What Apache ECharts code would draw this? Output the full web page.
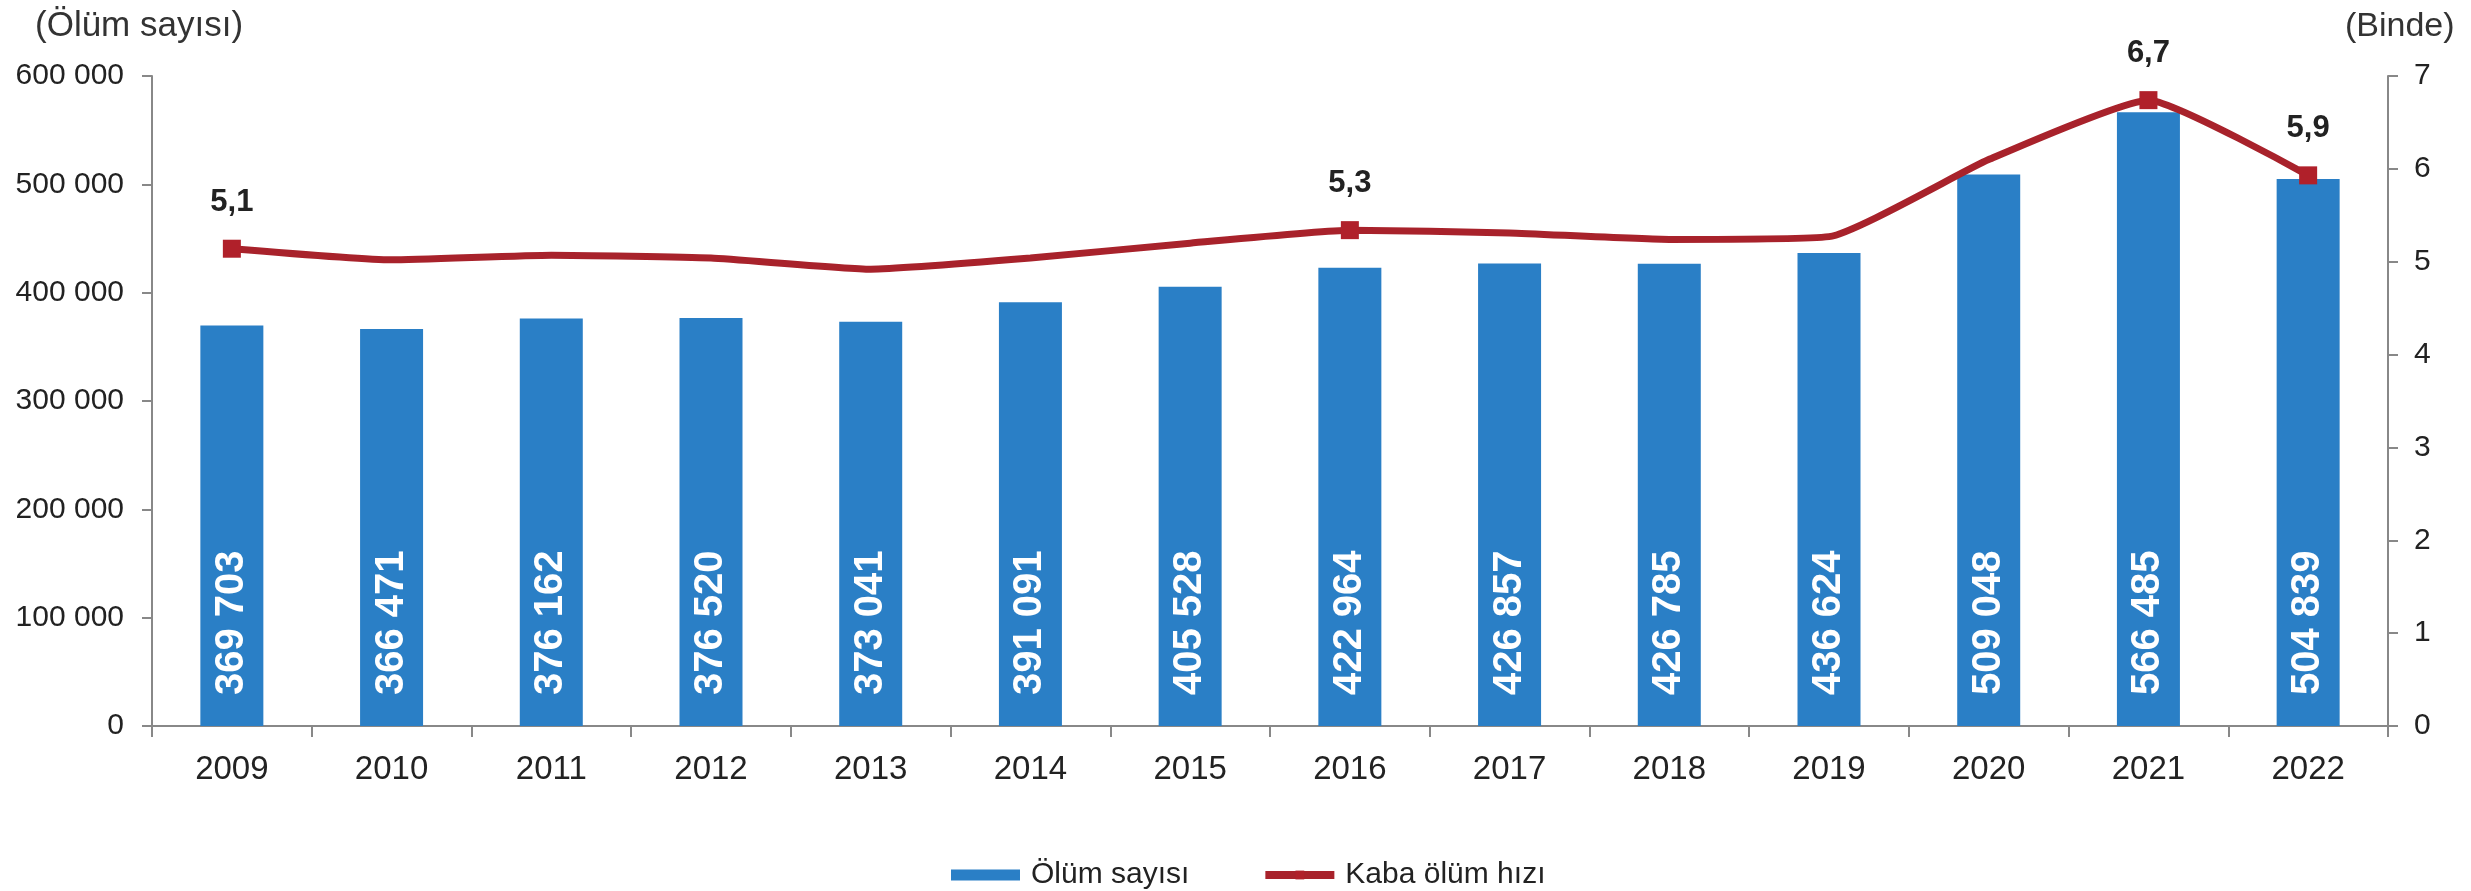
<!DOCTYPE html>
<html>
<head>
<meta charset="utf-8">
<script src="https://cdn.jsdelivr.net/npm/echarts@6/dist/echarts.min.js"></script>
<style>
html,body{margin:0;padding:0;background:#fff;}
#c{width:2471px;height:891px;}
</style>
</head>
<body>
<div id="c"></div>
<script>
const years = ['2009','2010','2011','2012','2013','2014','2015','2016','2017','2018','2019','2020','2021','2022'];
const deaths = [369703,366471,376162,376520,373041,391091,405528,422964,426857,426785,436624,509048,566485,504839];
const crudeRate = [5.14,5.02,5.07,5.04,4.92,5.04,5.2,5.34,5.31,5.24,5.27,6.1,6.74,5.93];
const labelledYears = ['2009','2016','2021','2022'];
const leftTicks = [0,100000,200000,300000,400000,500000,600000];
const rightTicks = [0,1,2,3,4,5,6,7];

const FONT = "'Liberation Sans', Arial, sans-serif";
const fmtThousands = v => String(v).replace(/\B(?=(\d{3})+(?!\d))/g, ' ');
const fmtComma = v => v.toFixed(1).replace('.', ',');

const lineData = crudeRate.map((v, i) => {
  const on = labelledYears.includes(years[i]);
  return {
    value: v,
    symbol: on ? 'rect' : 'none',
    label: { show: on }
  };
});

const chart = echarts.init(document.getElementById('c'), null, {renderer: 'canvas'});
chart.setOption({
  backgroundColor: '#ffffff',
  animation: false,
  grid: { left: 152, right: 83, top: 76, bottom: 165, containLabel: false },
  legend: {
    left: 946, top: 855,
    itemGap: 72,
    itemWidth: 69, itemHeight: 11,
    textStyle: { fontFamily: FONT, fontSize: 30, color: '#222', padding: [0,0,0,6] },
    data: [
      { name: 'Ölüm sayısı', icon: 'rect' },
      { name: 'Kaba ölüm hızı', itemStyle: { color: '#b0202a' }, lineStyle: { width: 8, color: '#a8222b' } }
    ]
  },
  graphic: [
    { type: 'text', left: 35, top: 9, style: { text: '(Ölüm sayısı)', font: "35px 'Liberation Sans', Arial, sans-serif", fill: '#333' } },
    { type: 'text', left: 2345, top: 10, style: { text: '(Binde)', font: "34px 'Liberation Sans', Arial, sans-serif", fill: '#333' } }
  ],
  xAxis: {
    type: 'category',
    data: years,
    boundaryGap: true,
    axisLine: { lineStyle: { color: '#888', width: 2 } },
    axisTick: { show: true, length: 11, inside: false, lineStyle: { color: '#888', width: 2 } },
    axisLabel: { fontFamily: FONT, fontSize: 33, color: '#222', margin: 27 }
  },
  yAxis: [
    {
      type: 'value', min: leftTicks[0], max: leftTicks[leftTicks.length-1], interval: leftTicks[1]-leftTicks[0],
      axisLine: { show: true, lineStyle: { color: '#888', width: 2 } },
      axisTick: { show: true, length: 10, lineStyle: { color: '#888', width: 2 } },
      splitLine: { show: false },
      axisLabel: { fontFamily: FONT, fontSize: 30, color: '#222', margin: 28, formatter: fmtThousands }
    },
    {
      type: 'value', min: rightTicks[0], max: rightTicks[rightTicks.length-1], interval: rightTicks[1]-rightTicks[0],
      position: 'right',
      axisLine: { show: true, lineStyle: { color: '#888', width: 2 } },
      axisTick: { show: true, length: 10, lineStyle: { color: '#888', width: 2 } },
      splitLine: { show: false },
      axisLabel: { fontFamily: FONT, fontSize: 30, color: '#222', margin: 26 }
    }
  ],
  series: [
    {
      name: 'Ölüm sayısı',
      type: 'bar',
      data: deaths,
      yAxisIndex: 0,
      barWidth: 63,
      itemStyle: { color: '#2a7fc6' },
      label: {
        show: true,
        position: 'insideBottom',
        rotate: 90,
        align: 'left',
        verticalAlign: 'middle',
        distance: 31,
        fontFamily: FONT,
        fontWeight: 'bold',
        fontSize: 40,
        color: '#ffffff',
        formatter: p => fmtThousands(p.value)
      }
    },
    {
      name: 'Kaba ölüm hızı',
      type: 'line',
      yAxisIndex: 1,
      data: lineData,
      smooth: 0.15,
      symbol: 'rect',
      symbolSize: 18,
      lineStyle: { color: '#a8222b', width: 7 },
      itemStyle: { color: '#b0202a' },
      label: {
        position: 'top',
        distance: 22,
        fontFamily: FONT,
        fontWeight: 'bold',
        fontSize: 31,
        color: '#222',
        formatter: p => fmtComma(p.value)
      },
      z: 5
    }
  ]
});
</script>
</body>
</html>
